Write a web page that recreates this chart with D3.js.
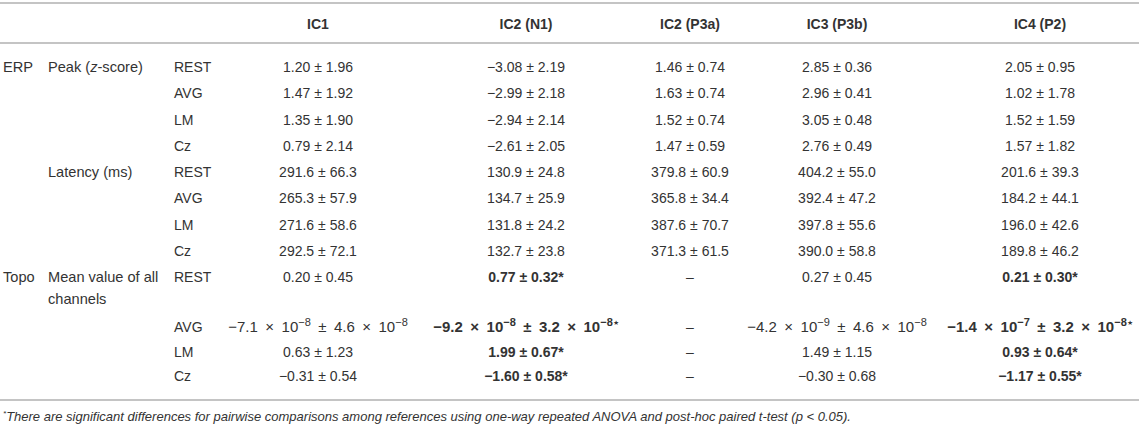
<!DOCTYPE html>
<html>
<head>
<meta charset="utf-8">
<script src="https://cdn.jsdelivr.net/npm/d3@7"></script>
<style>
  html, body { margin: 0; padding: 0; background: #fff; }
  svg { display: block; }
  text { font-family: "Liberation Sans", Arial, Helvetica, sans-serif; fill: #333; }
</style>
</head>
<body>
<svg id="chart" width="1143" height="429"></svg>
<script>
// ---------------- data ----------------
const components = ["IC1", "IC2 (N1)", "IC2 (P3a)", "IC3 (P3b)", "IC4 (P2)"];
const references = ["REST", "AVG", "LM", "Cz"];
const sections = ["ERP", "ERP", "Topo"];
const measures = ["Peak (z-score)", "Latency (ms)", "Mean value of all channels"];

const peakMean = [
  [1.20, -3.08, 1.46, 2.85, 2.05],
  [1.47, -2.99, 1.63, 2.96, 1.02],
  [1.35, -2.94, 1.52, 3.05, 1.52],
  [0.79, -2.61, 1.47, 2.76, 1.57]
];
const peakSD = [
  [1.96, 2.19, 0.74, 0.36, 0.95],
  [1.92, 2.18, 0.74, 0.41, 1.78],
  [1.90, 2.14, 0.74, 0.48, 1.59],
  [2.14, 2.05, 0.59, 0.49, 1.82]
];
const latencyMean = [
  [291.6, 130.9, 379.8, 404.2, 201.6],
  [265.3, 134.7, 365.8, 392.4, 184.2],
  [271.6, 131.8, 387.6, 397.8, 196.0],
  [292.5, 132.7, 371.3, 390.0, 189.8]
];
const latencySD = [
  [66.3, 24.8, 60.9, 55.0, 39.3],
  [57.9, 25.9, 34.4, 47.2, 44.1],
  [58.6, 24.2, 70.7, 55.6, 42.6],
  [72.1, 23.8, 61.5, 58.8, 46.2]
];
const topoMean = [
  [0.20, 0.77, null, 0.27, 0.21],
  [-7.1e-8, -9.2e-8, null, -4.2e-9, -1.4e-7],
  [0.63, 1.99, null, 1.49, 0.93],
  [-0.31, -1.60, null, -0.30, -1.17]
];
const topoSD = [
  [0.45, 0.32, null, 0.45, 0.30],
  [4.6e-8, 3.2e-8, null, 4.6e-8, 3.2e-8],
  [1.23, 0.67, null, 1.15, 0.64],
  [0.54, 0.58, null, 0.68, 0.55]
];
const topoSignificant = [false, true, false, false, true];
const footnote = "There are significant differences for pairwise comparisons among references using one-way repeated ANOVA and post-hoc paired t-test (p < 0.05).";

// ---------------- layout ----------------
const svg = d3.select("#chart");
const FS = 14;
const x = d3.scaleOrdinal().domain(components).range([318, 526, 690, 837, 1040]);
// row index -> vertical centre (Topo REST row wraps onto two lines)
const y = d3.scaleLinear().domain([0, 8, 9, 11]).range([67, 277, 327, 376]);
const xSection = 3, xMeasure = 48, xRef = 174;
const lineX = [0, 1139];

const MINUS = "\u2212";
function splitNum(v, digits) {
  if (v !== 0 && Math.abs(v) < 1e-3) {
    const [m, e] = v.toExponential(1).split("e");
    const mant = m.replace("-", MINUS);
    const ex = (+e).toString().replace("-", MINUS);
    return {sci: true, segs: [{t: mant + " \u00d7 10"}, {t: ex, sup: true}]};
  }
  return {sci: false, segs: [{t: v.toFixed(digits).replace("-", MINUS)}]};
}
function cellSegments(mean, sd, digits, star) {
  if (mean === null) return {sci: false, segs: [{t: "\u2013"}]};
  const a = splitNum(mean, digits), b = splitNum(sd, digits);
  const segs = [...a.segs, {t: " \u00b1 "}, ...b.segs];
  if (star) {
    const last = segs[segs.length - 1];
    if (last.sup) segs.push({t: "\u22c6", sup: true, small: true});
    else segs.push({t: "*"});
  }
  return {sci: a.sci || b.sci, segs};
}

// build row list
const rows = [];
const blocks = [
  {mean: peakMean, sd: peakSD, digits: 2, sig: null},
  {mean: latencyMean, sd: latencySD, digits: 1, sig: null},
  {mean: topoMean, sd: topoSD, digits: 2, sig: topoSignificant}
];
blocks.forEach((b, bi) => {
  references.forEach((r, ri) => {
    rows.push({
      idx: bi * 4 + ri,
      section: (ri === 0 && (bi === 0 || bi === 2)) ? sections[bi] : "",
      measure: ri === 0 ? measures[bi] : "",
      ref: r,
      cells: components.map((c, ci) => {
        const cs = cellSegments(b.mean[ri][ci], b.sd[ri][ci], b.digits, b.sig ? b.sig[ci] : false);
        return {comp: c, bold: b.sig ? b.sig[ci] : false, sci: cs.sci, segs: cs.segs};
      })
    });
  });
});

// ---------------- rules ----------------
svg.selectAll("line.rule").data([3, 43, 400]).join("line")
  .attr("class", "rule")
  .attr("x1", lineX[0]).attr("x2", lineX[1])
  .attr("y1", d => d).attr("y2", d => d)
  .attr("stroke", "#b0b0b0").attr("stroke-width", 1.6);

// ---------------- header ----------------
svg.selectAll("text.head").data(components).join("text")
  .attr("class", "head")
  .attr("x", d => x(d)).attr("y", 24 + 5)
  .attr("text-anchor", "middle")
  .attr("font-size", FS).attr("font-weight", "bold")
  .attr("fill", "#222")
  .text(d => d);

// ---------------- body ----------------
const LFS = 14.6;
const base = d => y(d) + 5;
const g = svg.append("g");
const rowG = g.selectAll("g.row").data(rows).join("g").attr("class", "row");

rowG.append("text").attr("x", xSection).attr("y", d => base(d.idx))
  .attr("font-size", LFS).text(d => d.section);

rowG.each(function(d) {
  if (!d.measure) return;
  const t = d3.select(this).append("text").attr("x", xMeasure).attr("y", base(d.idx)).attr("font-size", LFS);
  if (d.measure.startsWith("Peak")) {
    t.append("tspan").text("Peak (");
    t.append("tspan").attr("font-style", "italic").text("z");
    t.append("tspan").text("-score)");
  } else if (d.measure.startsWith("Mean")) {
    t.append("tspan").attr("x", xMeasure).text("Mean value of all");
    t.append("tspan").attr("x", xMeasure).attr("dy", 22).text("channels");
  } else {
    t.text(d.measure);
  }
});

rowG.append("text").attr("x", xRef).attr("y", d => base(d.idx))
  .attr("font-size", FS).text(d => d.ref);

rowG.each(function(d) {
  const sel = d3.select(this);
  d.cells.forEach(c => {
    const fs = c.sci ? 15 : FS;
    const supFs = c.sci ? 11 : 10;
    const raise = 6;
    const t = sel.append("text")
      .attr("x", x(c.comp)).attr("y", base(d.idx))
      .attr("text-anchor", "middle")
      .attr("font-size", fs)
      .attr("word-spacing", c.sci ? 3.3 : null)
      .attr("font-weight", c.bold ? "bold" : null)
      .attr("fill", c.bold ? "#222" : "#333");
    let raised = false;
    c.segs.forEach(s => {
      const sp = t.append("tspan").text(s.t);
      if (s.sup && !raised) { sp.attr("dy", -raise).attr("font-size", supFs); raised = true; }
      else if (s.sup && raised) { sp.attr("font-size", s.small ? 10 : supFs); }
      else if (!s.sup && raised) { sp.attr("dy", raise); raised = false; }
    });
  });
});

// ---------------- footnote ----------------
const fn = svg.append("text").attr("x", 3).attr("y", 421).attr("font-size", 13).attr("font-style", "italic");
const parts = footnote.split("(p < 0.05)");
fn.append("tspan").attr("font-size", 8).attr("dy", -5).text("*");
fn.append("tspan").attr("dy", 5).text(parts[0] + "(");
fn.append("tspan").text("p");
fn.append("tspan").text(" < 0.05)" + parts[1]);
</script>
</body>
</html>
